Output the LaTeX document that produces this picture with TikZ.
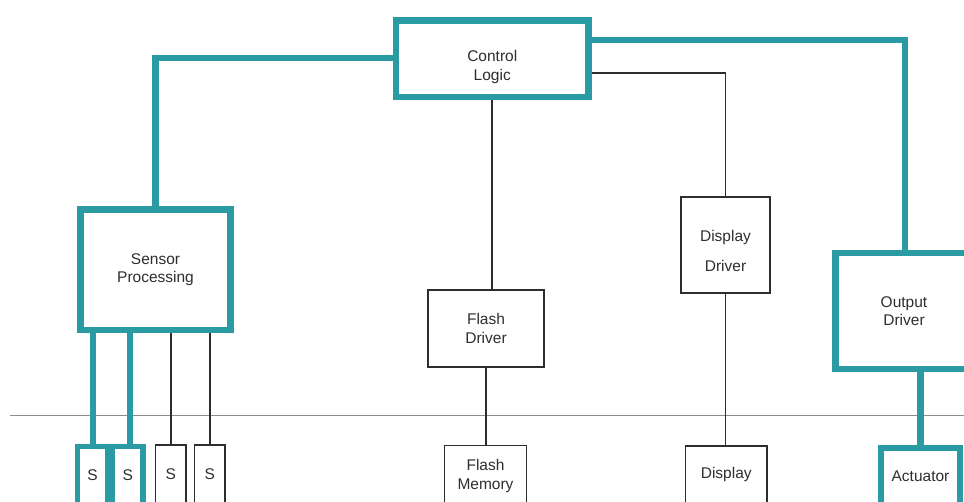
\documentclass[tikz,border=0pt]{standalone}
\usepackage{fontspec}
\setmainfont{Liberation Sans}
\definecolor{tealline}{RGB}{43,155,163}
\definecolor{thinline}{RGB}{45,45,45}
\definecolor{groundline}{RGB}{140,140,140}
\begin{document}
\begin{tikzpicture}[x=1pt,y=-1pt,
  every node/.style={font=\fontsize{15.5}{18.5}\selectfont, text=black!82, align=center, inner sep=0pt},
  tealbox/.style={draw=tealline, line width=6.5pt, fill=white, rectangle},
  thinbox/.style={draw=thinline, line width=1.5pt, fill=white, rectangle},
  tealwire/.style={draw=tealline, line width=6.5pt},
  thinwire/.style={draw=thinline, line width=1.6pt},
  boxtext/.style={font=\fontsize{15.5}{18.5}\selectfont, text=black!82, align=center}]
\useasboundingbox (0,0) rectangle (964,501);
\clip (0,0) rectangle (964,501);

% ground / system boundary line
\draw[groundline, line width=1pt] (10,415) -- (964,415);

% upper blocks
\node[tealbox, minimum width=192.5pt, minimum height=76.5pt,
      label={[boxtext, yshift=-8pt]center:{Control\\Logic}}] (ctrl) at (492.25,58.75) {};
\node[tealbox, minimum width=150pt, minimum height=120.5pt] (sp) at (155.5,269.75) {Sensor\\Processing};
\node[thinbox, minimum width=116pt, minimum height=77pt] (fd) at (486,328.5) {Flash\\Driver};
\node[thinbox, minimum width=89pt, minimum height=96pt,
      label={[boxtext, yshift=-6pt]center:{Display\\[11pt]Driver}}] (dd) at (725.5,245) {};
\node[tealbox, minimum width=137pt, minimum height=116pt] (od) at (904,311) {Output\\Driver};

% devices below the boundary (their lower edges run off the page)
\node[tealbox, line width=5.5pt, minimum width=30pt, minimum height=62pt, text depth=5pt] (s1) at (92.5,477.5) {S};
\node[tealbox, line width=5.5pt, minimum width=30.5pt, minimum height=62pt, text depth=5pt] (s2) at (127.75,477.5) {S};
\node[thinbox, minimum width=30.5pt, minimum height=62pt, text depth=4pt] (s3) at (170.75,476) {S};
\node[thinbox, minimum width=30.5pt, minimum height=62pt, text depth=4pt] (s4) at (209.75,476) {S};
\node[thinbox, minimum width=82pt, minimum height=61pt] (fm) at (485.5,476) {Flash\\Memory};
\node[thinbox, minimum width=81.5pt, minimum height=61pt, text depth=8pt] (disp) at (726.25,476.5) {Display};
\node[tealbox, minimum width=79pt, minimum height=62pt, text depth=6pt] (act) at (920.5,479) {Actuator};

% connections from the control logic
\draw[tealwire] (ctrl.west |- 0,58) -| (sp.north);
\draw[tealwire] (ctrl.east |- 0,40) -| (od.north -| 905,0);
\draw[thinwire] (ctrl.east |- 0,73) -| (dd.north);
\draw[thinwire] (ctrl.south) -- (ctrl.south |- fd.north);

% driver to device connections
\draw[tealwire, line width=6pt] (sp.south -| 93,0) -- (s1.north -| 93,0);
\draw[tealwire, line width=6pt] (sp.south -| 130,0) -- (s2.north -| 130,0);
\draw[thinwire] (sp.south -| s3.north) -- (s3.north);
\draw[thinwire] (sp.south -| s4.north) -- (s4.north);
\draw[thinwire] (fd.south) -- (fd.south |- fm.north);
\draw[thinwire] (dd.south) -- (dd.south |- disp.north);
\draw[tealwire] (od.south -| act.north) -- (act.north);
\end{tikzpicture}
\end{document}
